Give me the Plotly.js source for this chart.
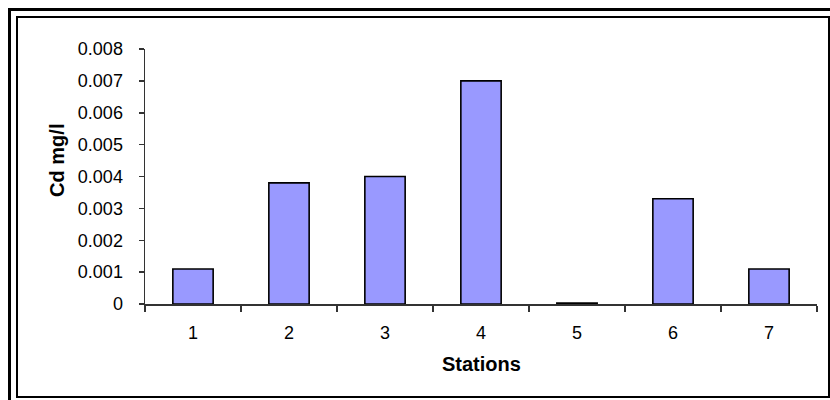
<!DOCTYPE html>
<html>
<head>
<meta charset="utf-8">
<script src="https://cdn.plot.ly/plotly-3.0.1.min.js"></script>
<style>
  html, body { margin: 0; padding: 0; background: #fff; overflow: hidden; }
  #wrap { position: relative; width: 830px; height: 400px; }
  #outer { position: absolute; left: 8px; top: 8px; width: 900px; height: 500px; border-left: 3px solid #000; border-top: 3px solid #000; box-sizing: border-box; }
  #inner { position: absolute; left: 16px; top: 16px; width: 814px; height: 382px; border: 2px solid #000; box-sizing: border-box; background: #fff; }
  #chart { position: absolute; left: 0; top: 0; width: 830px; height: 400px; }
</style>
</head>
<body>
<div id="wrap">
  <div id="outer"></div>
  <div id="inner"></div>
  <div id="chart"></div>
</div>
<script>
const stations = ["1", "2", "3", "4", "5", "6", "7"];
const cdValues = [0.0011, 0.0038, 0.004, 0.007, 0.00003, 0.0033, 0.0011];
const yTickVals = [0, 0.001, 0.002, 0.003, 0.004, 0.005, 0.006, 0.007, 0.008];
const yTickText = ["0", "0.001", "0.002", "0.003", "0.004", "0.005", "0.006", "0.007", "0.008"];
const xTitle = "Stations";
const yTitle = "Cd mg/l";

const fontFam = "Liberation Sans, Arial, sans-serif";

const trace = {
  type: "bar",
  x: stations,
  y: cdValues,
  marker: { color: "#9999FF", line: { color: "#000000", width: 1.6 } },
  hoverinfo: "x+y"
};

const layout = {
  width: 830,
  height: 400,
  margin: { l: 145, r: 13, t: 49, b: 96 },
  paper_bgcolor: "rgba(0,0,0,0)",
  plot_bgcolor: "rgba(0,0,0,0)",
  showlegend: false,
  bargap: 0.58,
  font: { family: fontFam, size: 18, color: "#000" },
  xaxis: {
    type: "category",
    tickson: "boundaries",
    ticks: "outside",
    ticklen: 6,
    tickwidth: 1.5,
    tickcolor: "#333",
    showline: true,
    linecolor: "#333",
    linewidth: 1.5,
    showgrid: false,
    zeroline: false,
    ticklabelstandoff: 12,
    tickfont: { family: fontFam, size: 18, color: "#000" }
  },
  yaxis: {
    range: [0, 0.008],
    tickvals: yTickVals,
    ticktext: yTickText,
    ticks: "outside",
    ticklen: 5,
    tickwidth: 1.5,
    tickcolor: "#333",
    showline: true,
    linecolor: "#333",
    linewidth: 1.5,
    showgrid: false,
    zeroline: false,
    ticklabelstandoff: 12,
    tickfont: { family: fontFam, size: 18, color: "#000" }
  },
  annotations: [
    {
      text: "<b>" + xTitle + "</b>",
      xref: "paper", yref: "paper",
      x: 0.501, y: -0.235,
      xanchor: "center", yanchor: "middle",
      showarrow: false,
      font: { family: fontFam, size: 20, color: "#000" }
    },
    {
      text: "<b>" + yTitle + "</b>",
      xref: "paper", yref: "paper",
      x: -0.131, y: 0.565,
      xanchor: "center", yanchor: "middle",
      textangle: -90,
      showarrow: false,
      font: { family: fontFam, size: 20, color: "#000" }
    }
  ]
};

Plotly.newPlot("chart", [trace], layout, { displayModeBar: false, staticPlot: true });
</script>
</body>
</html>
